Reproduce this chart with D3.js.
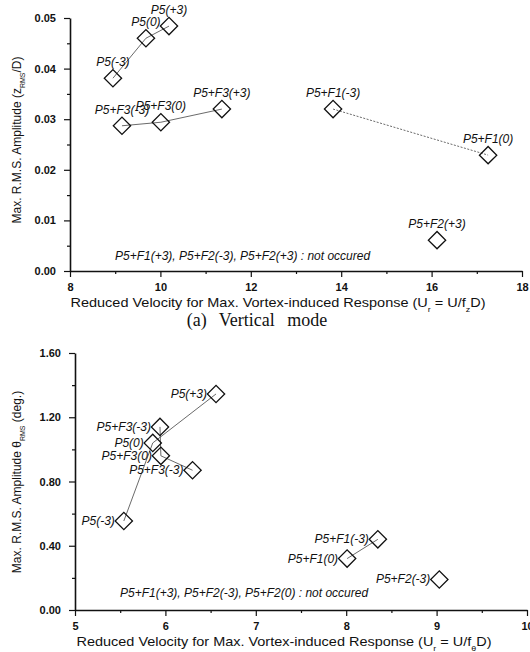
<!DOCTYPE html>
<html lang="en">
<head>
<meta charset="UTF-8">
<script src="https://cdn.jsdelivr.net/npm/d3@7"></script>
<style>
  body { margin: 0; background: #fff; font-family: Arial, "Liberation Sans", sans-serif; }
  .tick text { font-family: Arial, "Liberation Sans", sans-serif; font-weight: bold; font-size: 11px; fill: #111; }
  .tick line { stroke: #111; stroke-width: 1.2; }
  .domain { stroke: #111; stroke-width: 1.6; }
</style>
</head>
<body>
<div id="vis"></div>
<script>
// (a) vertical mode
const topNames  = ["P5(-3)", "P5(0)", "P5(+3)", "P5+F3(-3)", "P5+F3(0)", "P5+F3(+3)", "P5+F1(-3)", "P5+F1(0)", "P5+F2(+3)"];
const topGroups = ["P5", "P5", "P5", "F3", "F3", "F3", "F1", "F1", "F2"];
const topUr     = [8.95, 9.68, 10.19, 9.15, 10.01, 11.36, 13.82, 17.25, 16.12];
const topAmp    = [0.0381, 0.0460, 0.0484, 0.0287, 0.0294, 0.0320, 0.0320, 0.0229, 0.0061];
const topXTicks = [8, 10, 12, 14, 16, 18];
const topYTicks = [0.00, 0.01, 0.02, 0.03, 0.04, 0.05];
const topNote   = "P5+F1(+3), P5+F2(-3), P5+F2(+3) : not occured";

// (b) torsional mode
const botNames  = ["P5(-3)", "P5(0)", "P5(+3)", "P5+F3(-3)", "P5+F3(0)", "P5+F3(-3)", "P5+F1(-3)", "P5+F1(0)", "P5+F2(-3)"];
const botGroups = ["P5", "P5", "P5", "F3", "F3", "F3", "F1", "F1", "F2"];
const botUr     = [5.54, 5.86, 6.56, 5.94, 5.95, 6.30, 8.35, 8.01, 9.03];
const botTheta  = [0.554, 1.04, 1.345, 1.14, 0.96, 0.87, 0.44, 0.32, 0.19];
const botXTicks = [5, 6, 7, 8, 9, 10];
const botYTicks = [0.00, 0.40, 0.80, 1.20, 1.60];
const botNote   = "P5+F1(+3), P5+F2(-3), P5+F2(0) : not occured";

const width = 530, height = 652;

const svg = d3.select('#vis').append('svg')
  .attr('width', width)
  .attr('height', height);

// diamond marker: a square turned 45 degrees
const diamond = d3.symbol().type(d3.symbolSquare).size(150)();

function panel(opt) {
  const x = d3.scaleLinear().domain(opt.xDomain).range(opt.xRange);
  const y = d3.scaleLinear().domain(opt.yDomain).range(opt.yRange);
  const g = svg.append('g');

  // minor ticks first, major ticks with labels on top
  g.append('g')
    .attr('transform', `translate(0,${opt.yRange[0]})`)
    .call(d3.axisBottom(x).tickValues(opt.xMinor).tickSize(3).tickFormat(''))
    .select('.domain').remove();
  g.append('g')
    .attr('transform', `translate(${opt.xRange[0]},0)`)
    .call(d3.axisLeft(y).tickValues(opt.yMinor).tickSize(3).tickFormat(''))
    .select('.domain').remove();

  g.append('g')
    .attr('transform', `translate(0,${opt.yRange[0]})`)
    .call(d3.axisBottom(x).tickValues(opt.xTicks).tickSize(6).tickSizeOuter(0).tickPadding(6).tickFormat(d3.format('d')));
  g.append('g')
    .attr('transform', `translate(${opt.xRange[0]},0)`)
    .call(d3.axisLeft(y).tickValues(opt.yTicks).tickSize(6).tickSizeOuter(0).tickPadding(8).tickFormat(d3.format('.2f')));

  const pts = opt.names.map((n, i) => ({ name: n, group: opt.groups[i], x: x(opt.xs[i]), y: y(opt.ys[i]) }));

  // connecting lines per configuration
  const line = d3.line().x(d => d.x).y(d => d.y);
  d3.groups(pts, d => d.group).forEach(([grp, arr]) => {
    if (arr.length < 2) return;
    g.append('path')
      .attr('d', line(arr))
      .attr('fill', 'none')
      .attr('stroke', '#444')
      .attr('stroke-width', 0.8)
      .attr('stroke-dasharray', grp === 'F1' && opt.dotF1 ? '2,1.5' : null);
  });

  g.selectAll('.pt').data(pts).enter()
    .append('path')
    .attr('class', 'pt')
    .attr('d', diamond)
    .attr('transform', d => `translate(${d.x},${d.y}) rotate(45)`)
    .attr('fill', 'none')
    .attr('stroke', '#111')
    .attr('stroke-width', 1.3);

  g.selectAll('.lbl').data(pts).enter()
    .append('text')
    .attr('x', d => opt.labelLeft ? d.x - 9 : d.x)
    .attr('y', d => opt.labelLeft ? d.y + 4 : d.y - 12)
    .attr('text-anchor', opt.labelLeft ? 'end' : 'middle')
    .style('font-style', 'italic')
    .style('font-size', '12px')
    .style('fill', '#111')
    .text(d => d.name);

  g.append('text')
    .attr('x', opt.noteX).attr('y', opt.noteY)
    .style('font-style', 'italic')
    .style('font-size', '12px')
    .style('fill', '#111')
    .text(opt.note);

  return g;
}

const gTop = panel({
  names: topNames, groups: topGroups, xs: topUr, ys: topAmp,
  xDomain: [8, 18], xRange: [70, 522],
  yDomain: [0, 0.05], yRange: [271, 18],
  xTicks: topXTicks, yTicks: topYTicks,
  xMinor: d3.range(9, 18, 2), yMinor: d3.range(0.005, 0.05, 0.01),
  dotF1: true, labelLeft: false,
  note: topNote, noteX: 115, noteY: 260
});

const gBot = panel({
  names: botNames, groups: botGroups, xs: botUr, ys: botTheta,
  xDomain: [5, 10], xRange: [75, 527],
  yDomain: [0, 1.6], yRange: [610, 353],
  xTicks: botXTicks, yTicks: botYTicks,
  xMinor: d3.range(5.5, 10, 1), yMinor: d3.range(0.2, 1.6, 0.4),
  dotF1: false, labelLeft: true,
  note: botNote, noteX: 120, noteY: 597
});

// axis titles
function xTitle(g, cx, cy, sub) {
  const t = g.append('text').attr('x', cx).attr('y', cy)
    .attr('text-anchor', 'middle')
    .attr('textLength', 415).attr('lengthAdjust', 'spacingAndGlyphs')
    .style('font-size', '13px').style('fill', '#111');
  t.append('tspan').text('Reduced Velocity for Max. Vortex-induced Response (U');
  t.append('tspan').attr('baseline-shift', 'sub').style('font-size', '8px').text('r');
  t.append('tspan').text(' = U/f');
  t.append('tspan').attr('baseline-shift', 'sub').style('font-size', '8px').text(sub);
  t.append('tspan').text('D)');
}
xTitle(gTop, 278, 307, 'z');
xTitle(gBot, 284, 646, 'θ');

function yTitle(g, cx, cy, sym, unit) {
  const t = g.append('text')
    .attr('transform', `translate(${cx},${cy}) rotate(-90)`)
    .attr('text-anchor', 'middle').style('font-size', '12px').style('fill', '#111');
  t.append('tspan').text('Max. R.M.S. Amplitude ' + sym);
  t.append('tspan').attr('baseline-shift', 'sub').style('font-size', '7px').text('RMS');
  t.append('tspan').text(unit);
}
yTitle(gTop, 21, 140, '(z', '/D)');
yTitle(gBot, 21, 482, 'θ', ' (deg.)');

// caption
svg.append('text')
  .attr('x', 257).attr('y', 326)
  .attr('text-anchor', 'middle')
  .style('font-family', '"Liberation Serif", "Times New Roman", serif')
  .style('font-size', '18px')
  .style('word-spacing', '8px')
  .style('fill', '#111')
  .text('(a) Vertical mode');
</script>
</body>
</html>
